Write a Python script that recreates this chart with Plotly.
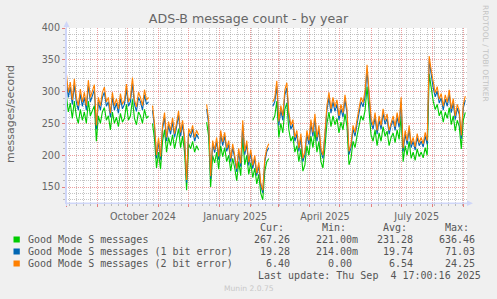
import numpy as np
import pandas as pd
import plotly.graph_objects as go

# ---------------- data ----------------
start_date = "2024-08-01"
step = "2D"

good = [295,268,282,258,285,262,250,272,255,268,250,285,262,270,278,222,262,250,268,275,255,262,240,268,250,260,245,266,252,258,280,255,262,288,258,248,268,262,250,272,258,262,
        None,
        250,225,180,205,178,222,240,205,228,215,232,210,226,242,212,230,205,145,218,210,222,205,215,208,
        None,None,None,
        252,230,150,200,188,205,178,215,198,212,190,200,175,195,180,160,190,168,228,185,200,170,188,165,180,155,170,140,130,175,190,195,
        None,
        255,262,285,228,250,235,272,282,240,222,
        230,205,215,190,210,175,185,215,200,230,
        212,238,205,222,190,180,212,250,268,245,
        262,248,258,235,252,240,265,245,185,195,
        222,212,230,248,262,255,270,308,262,232,
        222,240,215,235,222,245,230,238,215,228,
        235,220,240,225,262,190,215,200,222,195,
        205,192,210,198,205,196,212,200,328,305,
        285,272,280,262,270,252,268,258,275,248,
        262,238,255,245,210,255,267.26]

bit1 = [26,23,25,22,26,22,21,24,22,23,21,25,22,24,25,19,22,21,23,24,22,22,20,23,21,22,21,23,21,22,24,22,22,25,22,21,23,22,21,23,22,22,
        None,
        21,19,15,17,15,19,20,17,19,18,20,18,19,21,18,19,17,12,18,18,19,17,18,18,
        None,None,None,
        21,19,13,17,16,17,15,18,17,18,16,17,15,17,15,14,16,14,20,16,17,14,16,14,15,13,14,12,11,15,16,17,
        None,
        22,22,24,19,21,20,23,24,20,19,
        19,17,18,16,18,15,16,18,17,19,
        18,20,17,19,16,15,18,21,23,21,
        22,21,22,20,21,20,22,21,16,17,
        19,18,19,21,22,21,23,25,22,20,
        19,20,18,20,19,21,19,20,18,19,
        20,19,20,19,22,16,18,17,19,17,
        17,16,18,17,17,17,18,17,21,22,
        21,20,21,20,20,19,20,19,21,19,
        20,18,19,19,16,19,19.28]

bit2 = [9,8,8,7,9,7,7,8,7,8,7,8,7,8,8,6,7,7,8,8,7,7,6,8,7,7,7,8,7,7,8,7,7,9,7,7,8,7,7,8,7,7,
        None,
        7,6,5,6,5,6,7,6,6,6,7,6,6,7,6,6,6,4,6,6,6,6,6,6,
        None,None,None,
        7,6,4,6,5,6,5,6,6,6,5,6,5,6,5,5,5,5,7,5,6,5,5,5,5,4,5,4,4,5,5,6,
        None,
        7,7,8,6,7,7,8,8,7,6,
        7,6,6,5,6,5,5,6,6,7,
        6,7,6,6,5,5,6,7,8,7,
        7,7,7,7,7,7,8,7,5,6,
        6,6,7,7,7,7,8,9,7,7,
        6,7,6,7,6,7,6,7,6,6,
        7,6,7,6,7,5,6,6,6,5,
        6,5,6,5,6,5,6,6,7,7,
        7,6,7,6,7,6,7,6,7,6,
        7,6,6,6,5,6,6.40]

series_names = ["Good Mode S messages",
                "Good Mode S messages (1 bit error)",
                "Good Mode S messages (2 bit error)"]
series_colors = ["#00CC00", "#0066B3", "#FF8000"]
legend_cur = ["267.26", "19.28", "6.40"]
legend_min = ["221.00m", "214.00m", "0.00\u00a0"]
legend_avg = ["231.28", "19.74", "6.54"]
legend_max = ["636.46", "71.03", "24.25"]

x_range = ["2024-07-31 17:00", "2025-09-04 17:00"]
label_dates = ["2024-10-16 12:00", "2025-01-16 12:00", "2025-04-16", "2025-07-16 12:00"]
label_text = ["October 2024", "January 2025", "April 2025", "July 2025"]
y_range = [125, 400]

# ---------------- figure ----------------
dates = pd.date_range(start_date, periods=len(good), freq=step)
g = np.array(good, dtype=float)
b1 = np.array(bit1, dtype=float)
b2 = np.array(bit2, dtype=float)
stacks = [g, g + b1, g + b1 + b2]

W, H = 497, 299
ML, MR, MT, MB = 66, 30, 28, 96
PW, PH = W - ML - MR, H - MT - MB


def px(x):
    return (x - ML) / PW


def py(y):
    return (H - MB - y) / PH


fig = go.Figure()
for ys, col, name in zip(stacks, series_colors, series_names):
    fig.add_trace(go.Scatter(x=dates, y=ys, mode="lines", name=name,
                             line=dict(color=col, width=1.1), connectgaps=False,
                             hoverinfo="skip"))
# carrier trace for the label axis
fig.add_trace(go.Scatter(x=label_dates, y=[None] * len(label_dates), xaxis="x2",
                         mode="lines", showlegend=False, hoverinfo="skip"))

MINOR = "rgba(150,150,150,0.55)"
MAJOR = "rgba(222,79,79,0.55)"
AXIS = "#CFD6F8"
FONT = "#666666"

fig.update_layout(
    width=W, height=H,
    margin=dict(l=ML, r=MR, t=MT, b=MB, pad=0),
    paper_bgcolor="#F0F0F0", plot_bgcolor="#FFFFFF",
    showlegend=False,
    font=dict(family="DejaVu Sans", color=FONT, size=9.6),
    title=dict(text="ADS-B message count - by year", x=0.5, xref="container", xanchor="center",
               y=1 - 19 / H, yref="container", yanchor="middle",
               font=dict(size=12.6, color=FONT, family="DejaVu Sans")),
    xaxis=dict(type="date", range=x_range, dtick="M1", tick0="2024-08-01",
               showticklabels=False, showgrid=True, gridcolor=MAJOR, griddash="1px,1px", gridwidth=1,
               ticks="outside", ticklen=3, tickcolor="rgba(222,79,79,0.7)",
               minor=dict(dtick=7 * 86400000, tick0="2024-08-11", showgrid=True, gridcolor=MINOR,
                          griddash="1px,1px", ticks="outside", ticklen=2, tickcolor="rgba(150,150,150,0.6)"),
               showline=True, linecolor=AXIS, linewidth=1, zeroline=False, fixedrange=True),
    xaxis2=dict(type="date", overlaying="x", range=x_range, side="bottom", tickmode="array",
                tickvals=label_dates, ticktext=label_text, showgrid=False, ticks="outside", ticklen=4,
                tickcolor="rgba(0,0,0,0)", showline=False, zeroline=False,
                tickfont=dict(size=9.6, color=FONT)),
    yaxis=dict(range=y_range, dtick=50, tick0=0, showgrid=True, gridcolor=MAJOR, griddash="1px,1px",
               ticks="outside", ticklen=3, tickcolor="rgba(222,79,79,0.7)",
               minor=dict(dtick=10, showgrid=True, gridcolor=MINOR, griddash="1px,1px",
                          ticks="outside", ticklen=2, tickcolor="rgba(150,150,150,0.6)"),
               showline=True, linecolor=AXIS, linewidth=1, zeroline=False,
               tickfont=dict(size=9.6, color=FONT), fixedrange=True),
)

ann = []
shapes = []
# y-axis title
ann.append(dict(text="messages/second", x=px(10), y=py(114), xref="paper", yref="paper",
                showarrow=False, textangle=-90, font=dict(size=11, color=FONT),
                xanchor="center", yanchor="middle"))
# watermark
ann.append(dict(text="RRDTOOL / TOBI OETIKER", x=px(486), y=py(53), xref="paper", yref="paper",
                showarrow=False, textangle=90, font=dict(size=7.5, color="#C4C4C4"),
                xanchor="center", yanchor="middle"))
# axis arrows
shapes.append(dict(type="path", xref="paper", yref="paper",
                   path=f"M {px(63.5)} {py(27)} L {px(69.5)} {py(27)} L {px(66.5)} {py(21)} Z",
                   fillcolor=AXIS, line=dict(width=0)))
shapes.append(dict(type="path", xref="paper", yref="paper",
                   path=f"M {px(467)} {py(200.5)} L {px(467)} {py(206)} L {px(473)} {py(203.2)} Z",
                   fillcolor=AXIS, line=dict(width=0)))
shapes.append(dict(type="line", xref="paper", yref="paper", x0=px(66), x1=px(467), y0=py(203), y1=py(203),
                   line=dict(color=AXIS, width=1)))
shapes.append(dict(type="line", xref="paper", yref="paper", x0=px(66.5), x1=px(66.5), y0=py(206), y1=py(26),
                   line=dict(color=AXIS, width=1)))

MONO = "DejaVu Sans Mono"
LFONT = "#555555"
hdr_y = 227.3
for txt, xr in zip(["Cur:", "Min:", "Avg:", "Max:"], [285.7, 348, 409, 470.7]):
    ann.append(dict(text=txt, x=px(xr), y=py(hdr_y), xref="paper", yref="paper", showarrow=False,
                    xanchor="right", yanchor="middle", font=dict(family=MONO, size=10, color=LFONT)))
row_y = [239.5, 251.5, 263.5]
for i in range(3):
    yy = row_y[i]
    shapes.append(dict(type="rect", xref="paper", yref="paper", x0=px(13.5), x1=px(19.8),
                       y0=py(yy - 3), y1=py(yy + 3), fillcolor=series_colors[i], line=dict(width=0)))
    ann.append(dict(text=series_names[i], x=px(26), y=py(yy), xref="paper", yref="paper", showarrow=False,
                    xanchor="left", yanchor="middle", font=dict(family=MONO, size=10, color=LFONT)))
    for vals, xr in zip([legend_cur, legend_min, legend_avg, legend_max], [291.7, 360, 415, 476.7]):
        ann.append(dict(text=vals[i], x=px(xr), y=py(yy), xref="paper", yref="paper", showarrow=False,
                        xanchor="right", yanchor="middle", font=dict(family=MONO, size=10, color=LFONT)))
ann.append(dict(text="Last update: Thu Sep\u00a0 4 17:00:16 2025", x=px(482.5), y=py(275.7),
                xref="paper", yref="paper", showarrow=False, xanchor="right", yanchor="middle",
                font=dict(family=MONO, size=10, color=LFONT)))
ann.append(dict(text="Munin 2.0.75", x=px(248.5), y=py(288.3), xref="paper", yref="paper",
                showarrow=False, xanchor="center", yanchor="middle",
                font=dict(size=7.6, color="#C8C8C8")))

fig.update_layout(annotations=ann, shapes=shapes)
fig.write_html("out.html", config={"displayModeBar": False})
